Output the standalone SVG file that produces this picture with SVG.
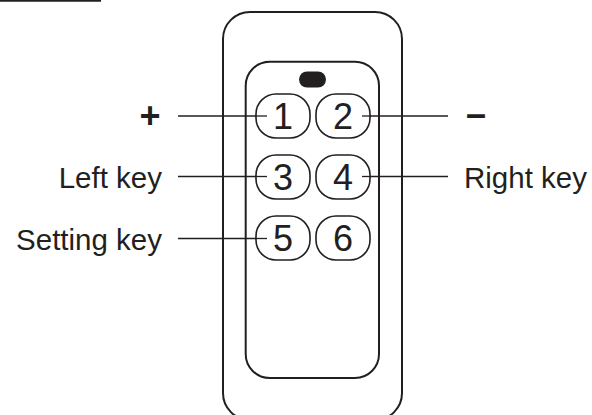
<svg xmlns="http://www.w3.org/2000/svg" width="592" height="415" viewBox="0 0 592 415">
  <style>
    .body { fill: none; stroke: #231f20; stroke-width: 2; }
    .key rect { fill: #ffffff; stroke: #231f20; stroke-width: 1.6; }
    .key text { font-family: "Liberation Sans", Arial, sans-serif; font-size: 36px; fill: #231f20; text-anchor: middle; }
    .label { font-family: "Liberation Sans", Arial, sans-serif; font-size: 29.5px; fill: #231f20; }
    .sign { font-family: "Liberation Sans", Arial, sans-serif; font-size: 36px; font-weight: bold; fill: #231f20; text-anchor: middle; }
    .lead { stroke: #231f20; stroke-width: 1.3; fill: none; }
  </style>
  <rect width="592" height="415" fill="#ffffff"/>
  <!-- rule at top left -->
  <line x1="0" y1="0.8" x2="101" y2="0.8" stroke="#231f20" stroke-width="2"/>

  <!-- remote housing -->
  <g id="housing">
    <rect class="body" x="223" y="12" width="179" height="408" rx="27"/>
    <rect class="body" x="245.7" y="61.7" width="133.3" height="316.3" rx="24"/>
    <rect x="299" y="71.5" width="27" height="16" rx="8" fill="#231f20"/>
  </g>

  <!-- leader lines -->
  <g id="connectors">
    <line class="lead" x1="178" y1="116" x2="267" y2="116"/>
    <line class="lead" x1="178" y1="176.5" x2="267" y2="176.5"/>
    <line class="lead" x1="178" y1="238.5" x2="267" y2="238.5"/>
    <line class="lead" x1="362" y1="116" x2="448" y2="116"/>
    <line class="lead" x1="362" y1="176.5" x2="448" y2="176.5"/>
  </g>

  <!-- keys -->
  <g id="key1" class="key"><rect x="256" y="94" width="54" height="44" rx="20"/><text x="283" y="128.5">1</text></g>
  <g id="key2" class="key"><rect x="316" y="94" width="54" height="44" rx="20"/><text x="343" y="128.5">2</text></g>
  <g id="key3" class="key"><rect x="256" y="155" width="54" height="44" rx="20"/><text x="283" y="189.5">3</text></g>
  <g id="key4" class="key"><rect x="316" y="155" width="54" height="44" rx="20"/><text x="343" y="189.5">4</text></g>
  <g id="key5" class="key"><rect x="256" y="216" width="54" height="44" rx="20"/><text x="283" y="250.5">5</text></g>
  <g id="key6" class="key"><rect x="316" y="216" width="54" height="44" rx="20"/><text x="343" y="250.5">6</text></g>

  <!-- leader ends drawn over the keys -->
  <g id="connector-ends">
    <line class="lead" x1="255" y1="116" x2="267" y2="116"/>
    <line class="lead" x1="255" y1="176.5" x2="267" y2="176.5"/>
    <line class="lead" x1="255" y1="238.5" x2="267" y2="238.5"/>
    <line class="lead" x1="362" y1="116" x2="371" y2="116"/>
    <line class="lead" x1="362" y1="176.5" x2="371" y2="176.5"/>
  </g>

  <!-- labels -->
  <g id="label-plus"><text class="sign" x="150" y="128">+</text></g>
  <g id="label-minus"><text class="sign" x="476" y="126">–</text></g>
  <g id="label-left"><text class="label" x="162" y="187.5" text-anchor="end">Left key</text></g>
  <g id="label-setting"><text class="label" x="162" y="249.5" text-anchor="end">Setting key</text></g>
  <g id="label-right"><text class="label" x="464" y="188">Right key</text></g>
</svg>
